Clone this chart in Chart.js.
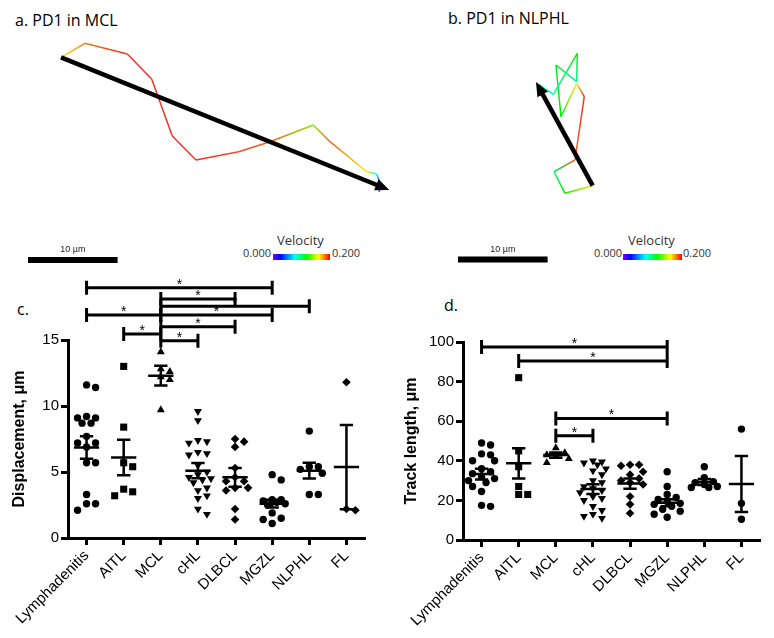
<!DOCTYPE html>
<html>
<head>
<meta charset="utf-8">
<script src="https://cdn.jsdelivr.net/npm/chart.js@4.4.0/dist/chart.umd.min.js"></script>
<style>
body { margin: 0; background: #fff; }
#wrap { position: relative; width: 774px; height: 638px; overflow: hidden; font-family: 'Open Sans', sans-serif; }
canvas { position: absolute; }
.lbl { position: absolute; white-space: nowrap; line-height: 1; }
.title { font-size: 16px; color: #000; }
.vel { font-size: 13px; color: #333; }
.num { font-size: 11px; color: #333; }
.bar { position: absolute; height: 6px;
  background: linear-gradient(to right, rgb(128,0,255) 0%, #0000ff 12%, #00ffff 38%, #00ff00 58%, #ffff00 80%, #ff0000 100%); }
</style>
</head>
<body>
<div id="wrap">
  <div class="lbl title" style="left:15px;top:12px">a. PD1 in MCL</div>
  <div class="lbl title" style="left:448px;top:10px">b. PD1 in NLPHL</div>
  <div class="lbl title" style="left:17px;top:301px">c.</div>
  <div class="lbl title" style="left:444px;top:297px">d.</div>

  <div class="lbl vel" style="left:277px;top:234px">Velocity</div>
  <div class="lbl num" style="left:243px;top:247px">0.000</div>
  <div class="bar" style="left:273px;top:254px;width:57px"></div>
  <div class="lbl num" style="left:332px;top:247px">0.200</div>

  <div class="lbl vel" style="left:628px;top:234px">Velocity</div>
  <div class="lbl num" style="left:594px;top:247px">0.000</div>
  <div class="bar" style="left:623px;top:254px;width:59px"></div>
  <div class="lbl num" style="left:683px;top:247px">0.200</div>

  <canvas id="trackA" width="400" height="250" style="left:0;top:20px"></canvas>
  <canvas id="trackB" width="374" height="250" style="left:400px;top:20px"></canvas>
  <canvas id="chartC" width="390" height="368" style="left:0;top:270px"></canvas>
  <canvas id="chartD" width="384" height="368" style="left:390px;top:270px"></canvas>
</div>
<script>
Chart.defaults.font.family = "'Liberation Sans', Arial, sans-serif";
Chart.defaults.color = '#000';

// tracks, in µm from the start point (y grows downwards)
var trackAX = [0, 2.68, 7.40, 10.12, 12.42, 15.07, 19.83, 23.33, 28.16, 30.02, 34.12, 35.23, 35.60, 35.52];
var trackAY = [0, -1.56, -0.37, 2.42, 8.78, 11.46, 10.54, 9.42, 7.56, 9.42, 12.77, 13.02, 14.00, 15.00];
var trackAVel = [0.16, 0.185, 0.2, 0.2, 0.2, 0.2, 0.195, 0.19, 0.14, 0.19, 0.16, 0.075, 0.03, 0.005];
var arrowAEnd = [36.64, 14.81];

var trackBX = [0, -3.09, -4.32, -1.98, -0.94, -1.79, -3.54, -4.10, -1.79, -1.72, -4.40, -6.07];
var trackBY = [0, 0.85, -1.56, -2.87, -9.93, -11.43, -7.70, -13.47, -11.61, -14.78, -10.20, -11.35];
var trackBVel = [0.16, 0.12, 0.1, 0.19, 0.2, 0.16, 0.115, 0.11, 0.09, 0.12, 0.085, 0.09];
var arrowBEnd = [-6.33, -11.57];

// groups
var cats = ['Lymphadenitis', 'AITL', 'MCL', 'cHL', 'DLBCL', 'MGZL', 'NLPHL', 'FL'];

// c. displacement, µm
var dispLymph = [11.6, 11.4, 9.2, 9.1, 9.1, 8.7, 8.7, 7.7, 7.2, 7.2, 6.9, 5.7, 5.7, 3.3, 2.6, 2.6, 2.1];
var dispAITL = [13.0, 8.4, 5.7, 5.4, 3.7, 3.5, 3.2];
var dispMCL = [14.1, 12.8, 12.6, 12.2, 12.0, 9.7];
var dispCHL = [9.6, 8.9, 7.4, 7.3, 7.2, 6.5, 6.4, 6.3, 5.5, 5.0, 4.8, 4.6, 4.5, 4.4, 4.2, 3.8, 3.6, 3.2, 3.0, 2.2, 1.8];
var dispDLBCL = [7.5, 7.3, 6.9, 5.3, 4.6, 4.3, 4.3, 3.8, 3.8, 3.6, 2.2, 1.4];
var dispMGZL = [4.8, 4.4, 2.9, 2.9, 2.8, 2.7, 2.6, 2.5, 1.9, 1.5, 1.4, 1.1];
var dispNLPHL = [8.1, 5.4, 5.4, 5.2, 4.9, 3.3, 3.3];
var dispFL = [11.8, 2.2, 2.1];
var dispMean = [6.85, 6.1, 12.3, 5.1, 4.6, 2.6, 5.1, 5.37];
var dispSem = [0.85, 1.35, 0.74, 0.58, 0.71, 0.29, 0.6, 3.2];
var dispBrackets = [
    {from: 'Lymphadenitis', to: 'MGZL', y: 18.95},
    {from: 'MCL', to: 'DLBCL', y: 18.1},
    {from: 'MCL', to: 'NLPHL', y: 17.55},
    {from: 'Lymphadenitis', to: 'MCL', y: 16.9},
    {from: 'MCL', to: 'MGZL', y: 16.9},
    {from: 'MCL', to: 'DLBCL', y: 16.0},
    {from: 'AITL', to: 'MCL', y: 15.45},
    {from: 'MCL', to: 'cHL', y: 14.95}
];

// d. track length, µm
var lenLymph = [49, 48, 43.5, 43, 40, 40, 36, 34.5, 33.5, 32, 31, 30, 29, 27, 24.5, 17.5, 17];
var lenAITL = [82, 45, 37, 27, 23, 23];
var lenMCL = [46.5, 44, 43, 42.5, 41, 39];
var lenCHL = [40, 39.5, 39, 38, 36, 35, 33, 30, 29, 27, 26, 25, 24, 22, 21, 20, 17, 15, 13, 12, 11];
var lenDLBCL = [38, 38, 37.5, 34.5, 33, 31, 30, 29, 28, 22, 18, 13.5];
var lenMGZL = [34.5, 27, 23, 21.5, 20.5, 19.5, 18.5, 18, 17, 15.5, 14.5, 13, 11.5];
var lenNLPHL = [37, 31.5, 29.5, 29, 28, 27, 26.5, 26.5];
var lenFL = [56, 18.5, 10.5];
var lenMean = [33.3, 38.7, 42.9, 25.7, 28.5, 18.8, 29.3, 28.3];
var lenSem = [2.7, 7.6, 1.3, 2.5, 2.6, 1.8, 1.5, 14.1];
var lenBrackets = [
    {from: 'Lymphadenitis', to: 'MGZL', y: 97.5},
    {from: 'AITL', to: 'MGZL', y: 90.4},
    {from: 'MCL', to: 'MGZL', y: 61.4},
    {from: 'MCL', to: 'cHL', y: 52.6}
];

var PX_PER_UM = 8.96;

var velStops = [[0, [128, 0, 255]], [0.12, [0, 0, 255]], [0.38, [0, 255, 255]], [0.58, [0, 235, 0]], [0.8, [250, 240, 0]], [1, [240, 50, 40]]];

function velColor(v) {
    var t = Math.min(1, Math.max(0, v / 0.2));
    for (var i = 1; i < velStops.length; i++) {
        var t0 = velStops[i - 1][0], c0 = velStops[i - 1][1];
        var t1 = velStops[i][0], c1 = velStops[i][1];
        if (t <= t1) {
            var f = (t - t0) / (t1 - t0);
            return 'rgb(' + c0.map(function (c, k) { return Math.round(c + (c1[k] - c) * f); }).join(',') + ')';
        }
    }
    return 'rgb(240,50,40)';
}

function segGradient(c, vel) {
    var g = c.chart.ctx.createLinearGradient(c.p0.x, c.p0.y, c.p1.x, c.p1.y);
    g.addColorStop(0, velColor(vel[c.p0DataIndex]));
    g.addColorStop(1, velColor(vel[c.p1DataIndex]));
    return g;
}

// shaft + head for dataset 1
var arrowHead = {
    id: 'arrowHead',
    afterDatasetsDraw: function (chart) {
        var pts = chart.getDatasetMeta(1).data;
        var a = pts[0], b = pts[1];
        var ang = Math.atan2(b.y - a.y, b.x - a.x);
        var L = 14, W = 6;
        var bx = b.x - L * Math.cos(ang), by = b.y - L * Math.sin(ang);
        var ctx = chart.ctx;
        ctx.save();
        ctx.strokeStyle = '#000';
        ctx.lineWidth = 4.5;
        ctx.beginPath();
        ctx.moveTo(a.x, a.y);
        ctx.lineTo(bx + 2 * Math.cos(ang), by + 2 * Math.sin(ang));
        ctx.stroke();
        ctx.fillStyle = '#000';
        ctx.beginPath();
        ctx.moveTo(b.x, b.y);
        ctx.lineTo(bx + W * Math.sin(ang), by - W * Math.cos(ang));
        ctx.lineTo(bx - W * Math.sin(ang), by + W * Math.cos(ang));
        ctx.closePath();
        ctx.fill();
        ctx.restore();
    }
};

var scaleBar = {
    id: 'scaleBar',
    afterDraw: function (chart, args, o) {
        var x = chart.scales.x;
        var len = x.getPixelForValue(o.um) - x.getPixelForValue(0);
        var ctx = chart.ctx;
        ctx.save();
        ctx.fillStyle = '#000';
        ctx.fillRect(o.left, o.top, len, 6);
        ctx.fillStyle = '#222';
        ctx.font = "9px 'Liberation Sans Narrow', 'Liberation Sans', sans-serif";
        ctx.textAlign = 'center';
        ctx.textBaseline = 'alphabetic';
        ctx.fillText(o.um + ' \u00b5m', o.left + len / 2, o.top - 5);
        ctx.restore();
    }
};

function trackChart(id, xs, ys, vel, arrowEnd, origin, bar) {
    var cv = document.getElementById(id);
    var w = cv.width, h = cv.height;
    var pts = xs.map(function (x, i) { return {x: x, y: ys[i]}; });
    return new Chart(cv, {
        type: 'scatter',
        data: {
            datasets: [{
                data: pts,
                showLine: true,
                borderWidth: 1.5,
                pointRadius: 0,
                segment: {
                    borderColor: function (c) { return segGradient(c, vel); }
                }
            }, {
                data: [pts[0], {x: arrowEnd[0], y: arrowEnd[1]}],
                showLine: true,
                borderColor: 'rgba(0,0,0,0)',
                borderWidth: 0,
                pointRadius: 0
            }]
        },
        options: {
            responsive: false,
            animation: false,
            events: [],
            layout: {padding: 0},
            scales: {
                x: {type: 'linear', display: false, min: -origin[0] / PX_PER_UM, max: (w - origin[0]) / PX_PER_UM},
                y: {type: 'linear', display: false, reverse: true, min: -origin[1] / PX_PER_UM, max: (h - origin[1]) / PX_PER_UM}
            },
            plugins: {
                legend: {display: false},
                tooltip: {enabled: false},
                scaleBar: bar
            }
        },
        plugins: [arrowHead, scaleBar]
    });
}

trackChart('trackA', trackAX, trackAY, trackAVel, arrowAEnd, [61, 37.3], {left: 28, top: 237, um: 10});
trackChart('trackB', trackBX, trackBY, trackBVel, arrowBEnd, [192.7, 165.7], {left: 58, top: 236.5, um: 10});

// spread points sideways where they would overlap (kept within about ±13 px)
function swarm(vals, pxPerUnit) {
    var placed = [], out = [];
    var slots = [0, 9, -9, 13, -13, 4.5, -4.5];
    var order = vals.map(function (v, i) { return i; }).sort(function (a, b) { return vals[b] - vals[a]; });
    order.forEach(function (i) {
        var y = vals[i] * pxPerUnit;
        var best = 0, bestD = -1;
        for (var s = 0; s < slots.length; s++) {
            var x = slots[s];
            var d = placed.reduce(function (m, p) { return Math.min(m, Math.hypot(p.x - x, p.y - y)); }, 1e9);
            if (d >= 7) { best = x; bestD = d; break; }
            if (d > bestD) { best = x; bestD = d; }
        }
        placed.push({x: best, y: y});
        out[i] = best / 37.1;
    });
    return out;
}

var markerRadius = {circle: 3.7, rect: 5, triangle: 4.6, triangleDown: 4.6, rectRot: 4.3};

var statsLayer = {
    id: 'statsLayer',
    afterDatasetsDraw: function (chart, args, o) {
        var ctx = chart.ctx, xs = chart.scales.x, ys = chart.scales.y;
        var px = function (v) { return xs.getPixelForValue(v); };
        var py = function (v) { return ys.getPixelForValue(v); };
        ctx.save();
        ctx.strokeStyle = '#000';
        ctx.fillStyle = '#000';
        ctx.lineWidth = 2.5;
        o.means.forEach(function (m, i) {
            var cx = px(i), w = px(i + 0.34) - cx, cw = px(i + 0.18) - cx;
            var top = py(m + o.sems[i]), bot = py(m - o.sems[i]), mid = py(m);
            ctx.beginPath();
            ctx.moveTo(cx - w, mid); ctx.lineTo(cx + w, mid);
            ctx.moveTo(cx, top); ctx.lineTo(cx, bot);
            ctx.moveTo(cx - cw, top); ctx.lineTo(cx + cw, top);
            ctx.moveTo(cx - cw, bot); ctx.lineTo(cx + cw, bot);
            ctx.stroke();
        });
        ctx.lineWidth = 3;
        ctx.font = "14px 'Liberation Sans', Arial, sans-serif";
        ctx.textAlign = 'center';
        ctx.textBaseline = 'middle';
        o.brackets.forEach(function (b) {
            var x1 = px(cats.indexOf(b.from)), x2 = px(cats.indexOf(b.to)), y = py(b.y);
            ctx.beginPath();
            ctx.moveTo(x1, y); ctx.lineTo(x2, y);
            ctx.moveTo(x1, y - 7); ctx.lineTo(x1, y + 7);
            ctx.moveTo(x2, y - 7); ctx.lineTo(x2, y + 7);
            ctx.stroke();
            ctx.fillText('*', (x1 + x2) / 2, y - 3);
        });
        ctx.restore();
    }
};

function statsChart(id, groups, means, sems, brackets, o) {
    var datasets = groups.map(function (vals, i) {
        var off = swarm(vals, o.pxPerUnit);
        var st = o.styles[i];
        return {
            data: vals.map(function (v, j) { return {x: i + off[j], y: v}; }),
            pointStyle: st === 'triangleDown' ? 'triangle' : st,
            rotation: st === 'triangleDown' ? 180 : 0,
            pointRadius: markerRadius[st],
            backgroundColor: '#000',
            borderColor: '#000',
            borderWidth: 0
        };
    });
    return new Chart(document.getElementById(id), {
        type: 'scatter',
        data: {datasets: datasets},
        options: {
            responsive: false,
            animation: false,
            events: [],
            layout: {padding: {top: o.padTop, right: o.padRight, left: 0, bottom: 0}},
            scales: {
                x: {
                    type: 'linear',
                    min: -0.5,
                    max: cats.length - 0.5,
                    afterBuildTicks: function (s) { s.ticks = cats.map(function (c, i) { return {value: i}; }); },
                    afterFit: function (s) { s.height = o.xHeight; },
                    grid: {drawOnChartArea: false, drawTicks: true, tickLength: 7, tickWidth: 3, tickColor: '#000'},
                    border: {display: true, color: '#000', width: 3},
                    ticks: {
                        autoSkip: false, minRotation: 45, maxRotation: 45, padding: 2,
                        color: '#000', font: {size: 15},
                        callback: function (v) { return cats[v]; }
                    }
                },
                y: {
                    min: 0,
                    max: o.yMax,
                    afterFit: function (s) { s.width = o.yWidth; },
                    grid: {drawOnChartArea: false, drawTicks: true, tickLength: 7, tickWidth: 3, tickColor: '#000'},
                    border: {display: true, color: '#000', width: 3},
                    ticks: {stepSize: o.yStep, padding: 2, color: '#000', font: {size: 15}},
                    title: {
                        display: true, text: o.title, color: '#000',
                        font: {size: 16, weight: 'bold'},
                        padding: {top: o.titlePad, bottom: 0}
                    }
                }
            },
            plugins: {
                legend: {display: false},
                tooltip: {enabled: false},
                statsLayer: {means: means, sems: sems, brackets: brackets}
            }
        },
        plugins: [statsLayer]
    });
}

statsChart('chartC',
    [dispLymph, dispAITL, dispMCL, dispCHL, dispDLBCL, dispMGZL, dispNLPHL, dispFL],
    dispMean, dispSem, dispBrackets,
    {
        yMax: 15, yStep: 5, title: 'Displacement, \u03bcm', pxPerUnit: 13.2,
        yWidth: 68, padTop: 70, padRight: 25, xHeight: 100, titlePad: 10,
        styles: ['circle', 'rect', 'triangle', 'triangleDown', 'rectRot', 'circle', 'circle', 'rectRot']
    });

statsChart('chartD',
    [lenLymph, lenAITL, lenMCL, lenCHL, lenDLBCL, lenMGZL, lenNLPHL, lenFL],
    lenMean, lenSem, lenBrackets,
    {
        yMax: 100, yStep: 20, title: 'Track length, \u03bcm', pxPerUnit: 1.983,
        yWidth: 73, padTop: 72, padRight: 14, xHeight: 98, titlePad: 12,
        styles: ['circle', 'rect', 'triangle', 'triangleDown', 'rectRot', 'circle', 'circle', 'circle']
    });
</script>
</body>
</html>
